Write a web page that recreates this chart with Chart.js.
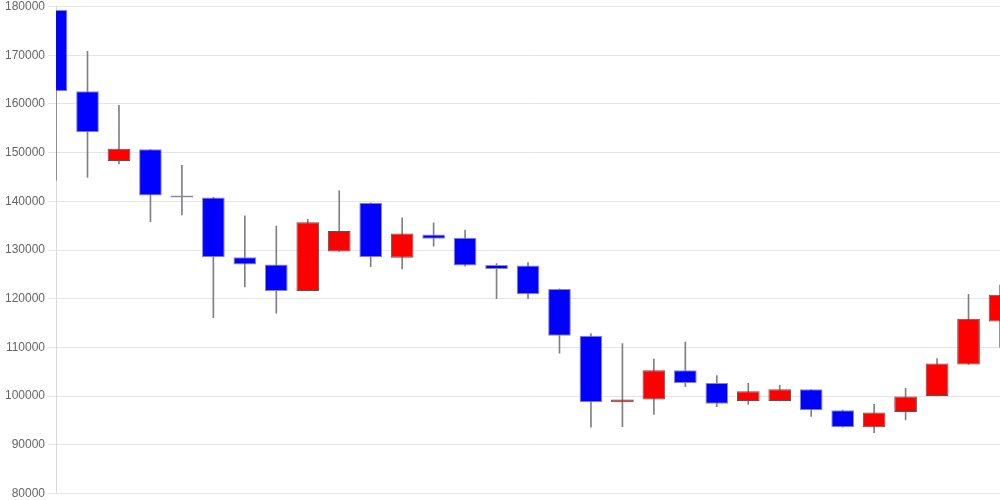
<!DOCTYPE html>
<html>
<head>
<meta charset="utf-8">
<script src="https://cdn.jsdelivr.net/npm/chart.js@4.4.0/dist/chart.umd.min.js"></script>
<style>
html,body{margin:0;padding:0;background:#fff;}
#wrap{width:1000px;height:500px;}
</style>
</head>
<body>
<div id="wrap"><canvas id="c" width="1000" height="500"></canvas></div>
<script>
const categories = ["1","2","3","4","5","6","7","8","9","10","11","12","13","14","15","16","17","18","19","20","21","22","23","24","25","26","27","28","29","30","31"];
const opens  = [179300,162600,148300,150700,141200,140800,128500,127000,121600,129700,139700,128400,133200,132500,126900,126800,122000,112400,98700,99300,105300,102700,99000,99000,101400,97100,93600,96700,100000,106500,115300];
const closes = [162600,154200,150800,141200,140800,128500,127000,121600,135700,133900,128500,133400,132300,126800,126100,120900,112400,98700,99300,105300,102700,98400,101000,101400,97100,93600,96600,99900,106700,115900,120800];
const highs  = [179300,170800,159700,150700,147400,140800,137000,134900,136300,142200,139700,136600,135600,134100,127200,127400,122000,112850,110800,107600,111100,104200,102600,102200,101400,97100,98300,101600,107700,120900,122800];
const lows   = [144300,144900,147700,135800,137200,116100,122400,117000,121600,129700,126600,126100,130800,126700,120000,120000,108800,93600,93700,96200,101900,97800,98300,99000,95800,93600,92500,95100,100000,106500,110000];
const yTicks = [80000,90000,100000,110000,120000,130000,140000,150000,160000,170000,180000];

const bodies = opens.map((o,i)=>[o,closes[i]]);
const wicks = lows.map((l,i)=>[l,highs[i]]);
const bodyColors = opens.map((o,i)=> closes[i] >= o ? '#ff0000' : '#0000ff');
const bodyBorders = opens.map((o,i)=> closes[i] >= o ? '#555' : '#8a8aa8');

new Chart(document.getElementById('c'), {
  type: 'bar',
  data: {
    labels: categories,
    datasets: [
      {
        data: bodies,
        backgroundColor: bodyColors,
        borderColor: bodyBorders,
        borderWidth: 1,
        borderSkipped: false,
        grouped: false,
        clip: 0,
        categoryPercentage: 0.8,
        barPercentage: 0.9
      },
      {
        data: wicks,
        backgroundColor: '#808080',
        borderWidth: 0,
        barThickness: 1,
        grouped: false,
        clip: 0
      }
    ]
  },
  options: {
    responsive: false,
    animation: false,
    events: [],
    layout: { padding: { left: 2, right: 0, top: 0, bottom: 0 } },
    plugins: { legend: { display: false }, tooltip: { enabled: false } },
    scales: {
      x: {
        display: false,
        offset: false,
        grid: { display: false, offset: false }
      },
      y: {
        min: 80000,
        max: 180000,
        afterBuildTicks: (axis) => { axis.ticks = yTicks.map(v => ({ value: v })); },
        ticks: {
          color: '#666',
          font: { family: 'Liberation Sans, Arial, sans-serif', size: 12, lineHeight: 0.6 },
          padding: 3,
          callback: (v) => String(v)
        },
        grid: { color: 'rgba(0,0,0,0.1)', tickLength: 8 },
        border: { color: 'rgba(0,0,0,0.15)' }
      }
    }
  }
});
</script>
</body>
</html>
